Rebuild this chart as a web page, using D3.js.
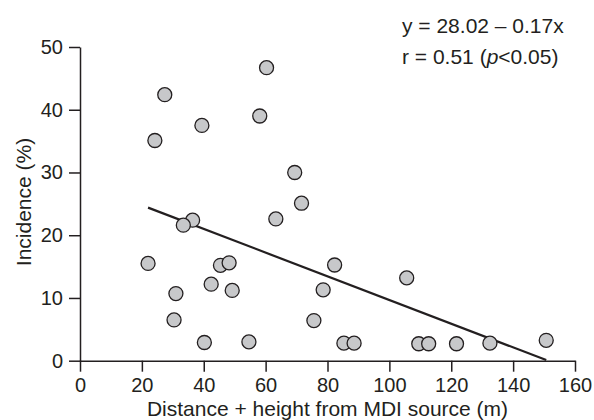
<!DOCTYPE html>
<html>
<head>
<meta charset="utf-8">
<script src="https://cdn.jsdelivr.net/npm/d3@7"></script>
<style>
  body { margin: 0; background: #fff; }
  text { font-family: "Liberation Sans", Arial, sans-serif; fill: #231f20; }
</style>
</head>
<body>
<svg id="chart" width="594" height="420"></svg>
<script>
// distance + height (m) and incidence (%)
var distX = [27.4, 24.2, 39.4, 60.3, 58.1, 69.4, 71.6, 36.4, 33.4, 63.3,
             22.0, 45.4, 48.2, 42.4, 49.2, 31.0, 30.4, 40.2, 54.6, 82.3,
             78.6, 75.6, 85.3, 88.6, 105.6, 109.5, 112.7, 121.7, 132.5, 150.7];
var incY  = [42.4, 35.1, 37.5, 46.7, 39.0, 30.0, 25.1, 22.4, 21.6, 22.6,
             15.5, 15.2, 15.6, 12.2, 11.2, 10.7, 6.5, 2.9, 3.0, 15.25,
             11.3, 6.4, 2.8, 2.8, 13.2, 2.7, 2.7, 2.7, 2.8, 3.25];

// fitted line as drawn
var fitX = [22, 150.7];
var fitY = [24.4, 0.1];

var xTicks = [0, 20, 40, 60, 80, 100, 120, 140, 160];
var yTicks = [0, 10, 20, 30, 40, 50];

var svg = d3.select("#chart");
var x = d3.scaleLinear().domain([0, 160]).range([80, 575]),
    y = d3.scaleLinear().domain([0, 50]).range([360.7, 47]);

var ink = "#231f20";

// axes
var gx = svg.append("g").attr("transform", "translate(0," + y(0) + ")")
    .call(d3.axisBottom(x).tickValues(xTicks).tickSize(11).tickPadding(6).tickSizeOuter(0));
var gy = svg.append("g").attr("transform", "translate(" + x(0) + ",0)")
    .call(d3.axisLeft(y).tickValues(yTicks).tickSize(11).tickPadding(6).tickSizeOuter(0));

[gx, gy].forEach(function (g) {
    g.select(".domain").attr("stroke", ink).attr("stroke-width", 1.5);
    g.selectAll(".tick line").attr("stroke", ink).attr("stroke-width", 1.5);
    g.selectAll(".tick text").attr("fill", ink)
        .style("font-family", "'Liberation Sans', Arial, sans-serif").style("font-size", "20px");
});

// regression line
svg.append("line")
    .attr("x1", x(fitX[0])).attr("y1", y(fitY[0]))
    .attr("x2", x(fitX[1])).attr("y2", y(fitY[1]))
    .attr("stroke", ink).attr("stroke-width", 2.2);

// points
svg.append("g").selectAll("circle")
    .data(distX)
    .enter().append("circle")
    .attr("cx", function (d) { return x(d); })
    .attr("cy", function (d, i) { return y(incY[i]); })
    .attr("r", 7)
    .attr("fill", "#c7c8ca")
    .attr("stroke", ink)
    .attr("stroke-width", 1.3);

// labels
svg.append("text")
    .attr("x", (x(0) + x(160)) / 2).attr("y", 416)
    .attr("text-anchor", "middle").style("font-size", "21px")
    .text("Distance + height from MDI source (m)");

svg.append("text")
    .attr("transform", "translate(31,202) rotate(-90)")
    .attr("text-anchor", "middle").style("font-size", "21px")
    .text("Incidence (%)");

svg.append("text")
    .attr("x", 402).attr("y", 33).style("font-size", "21px")
    .text("y = 28.02 \u2013 0.17x");

var t2 = svg.append("text").attr("x", 402).attr("y", 64).style("font-size", "21px");
t2.append("tspan").text("r = 0.51 (");
t2.append("tspan").style("font-style", "italic").text("p");
t2.append("tspan").text("<0.05)");
</script>
</body>
</html>
